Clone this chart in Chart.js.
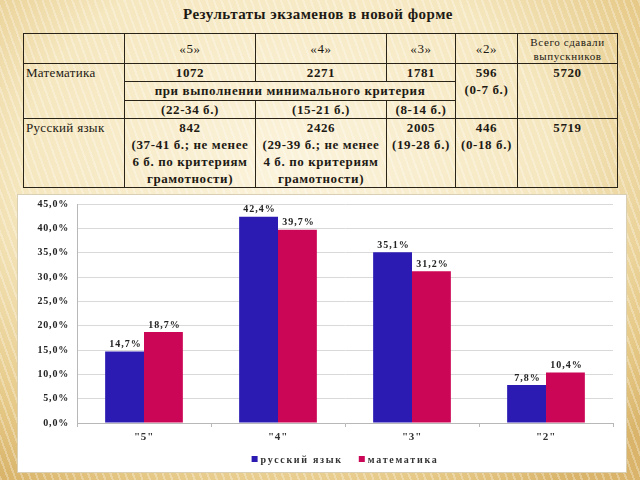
<!DOCTYPE html>
<html>
<head>
<meta charset="utf-8">
<script src="https://cdn.jsdelivr.net/npm/chart.js@4/dist/chart.umd.min.js"></script>
<style>
    html, body { margin: 0; padding: 0; }
    body {
        width: 640px; height: 480px; overflow: hidden; position: relative;
        font-family: "Liberation Serif", serif; color: #1e1a14;
        background:
            repeating-linear-gradient(70deg, rgba(255,255,255,0.28) 0 2px, rgba(255,255,255,0) 2px 7px),
            radial-gradient(ellipse 75% 80% at 45% 35%, #fbf3dc 0%, #f5e7bf 55%, #e6c987 85%, #d9b46a 100%);
    }
    #title {
        position: absolute; left: 0; top: 6px; width: 636px; text-align: center;
        font-size: 15px; font-weight: bold; letter-spacing: 0.5px;
    }
    table {
        position: absolute; left: 23px; top: 33px; width: 594px;
        border-collapse: collapse; table-layout: fixed;
        font-size: 13px; line-height: 17px;
    }
    td { border: 1px solid #2a2418; padding: 0 2px; text-align: center; vertical-align: top; font-weight: bold; letter-spacing: 0.6px; }
    tr.head td { font-weight: normal; vertical-align: middle; }
    td.lbl { text-align: left; font-weight: normal; font-size: 13px; letter-spacing: 0.3px; }
    td.small { font-size: 11px; line-height: 14px; }
    #panel {
        position: absolute; left: 18px; top: 195px; width: 608px; height: 277px;
        background: #ffffff; box-shadow: 0 0 0 1px #d8cfb4;
    }
    #panel canvas { position: absolute; left: 0; top: 0; }
</style>
</head>
<body>
<div id="title">Результаты экзаменов в новой форме</div>
<table>
    <colgroup>
        <col style="width:101px"><col style="width:131px"><col style="width:131px">
        <col style="width:69px"><col style="width:62px"><col style="width:100px">
    </colgroup>
    <tr class="head" style="height:30px">
        <td></td><td>«5»</td><td>«4»</td><td>«3»</td><td>«2»</td>
        <td class="small">Всего сдавали выпускников</td>
    </tr>
    <tr style="height:17px">
        <td class="lbl" rowspan="3">Математика</td>
        <td>1072</td><td>2271</td><td>1781</td>
        <td rowspan="3">596<br>(0-7 б.)</td>
        <td rowspan="3">5720</td>
    </tr>
    <tr style="height:19px">
        <td colspan="3">при выполнении минимального критерия</td>
    </tr>
    <tr style="height:18px">
        <td>(22-34 б.)</td><td>(15-21 б.)</td><td>(8-14 б.)</td>
    </tr>
    <tr style="height:68px">
        <td class="lbl">Русский язык</td>
        <td>842<br>(37-41 б.; не менее<br>6 б. по критериям<br>грамотности)</td>
        <td>2426<br>(29-39 б.; не менее<br>4 б. по критериям<br>грамотности)</td>
        <td>2005<br>(19-28 б.)</td>
        <td>446<br>(0-18 б.)</td>
        <td>5719</td>
    </tr>
</table>
<div id="panel"><canvas id="chart" width="608" height="277"></canvas></div>
<script>
// === Data ===
const categories = ['"5"', '"4"', '"3"', '"2"'];
const russianValues = [14.7, 42.4, 35.1, 7.8];
const mathValues = [18.7, 39.7, 31.2, 10.4];
const seriesNames = ['русский язык', 'математика'];
const seriesColors = ['#2b1bb2', '#cc0656'];

const fontFamily = '"Liberation Serif", serif';
const fmtPct = v => v.toFixed(1).replace('.', ',') + '%';

// a bit of letter spacing for the axis text, the original looks stretched
const spacing = {
    id: 'spacing',
    beforeDraw(chart) { chart.ctx.letterSpacing = '0.8px'; }
};

// value above each bar
const barLabels = {
    id: 'barLabels',
    afterDatasetsDraw(chart) {
        const ctx = chart.ctx;
        ctx.save();
        ctx.letterSpacing = '1px';
        ctx.font = 'bold 10px ' + fontFamily;
        ctx.fillStyle = '#222';
        ctx.textAlign = 'center';
        ctx.textBaseline = 'bottom';
        chart.data.datasets.forEach((ds, i) => {
            chart.getDatasetMeta(i).data.forEach((bar, j) => {
                ctx.fillText(fmtPct(ds.data[j]), bar.x + 1, bar.y - 2);
            });
        });
        ctx.restore();
    }
};

// legend at the bottom
const bottomLegend = {
    id: 'bottomLegend',
    afterDraw(chart) {
        const ctx = chart.ctx;
        const y = 264, box = 6, gap = 3, between = 16;
        ctx.save();
        ctx.letterSpacing = '1.7px';
        ctx.font = 'bold 10px ' + fontFamily;
        ctx.textBaseline = 'middle';
        const widths = seriesNames.map(n => ctx.measureText(n).width);
        const total = widths.reduce((a, w) => a + box + gap + w, 0) + between;
        let x = (chart.chartArea.left + chart.chartArea.right) / 2 - total / 2;
        seriesNames.forEach((n, i) => {
            ctx.fillStyle = seriesColors[i];
            ctx.fillRect(x, y - box / 2, box, box);
            ctx.fillStyle = '#333';
            ctx.fillText(n, x + box + gap, y + 1);
            x += box + gap + widths[i] + between;
        });
        ctx.restore();
    }
};

new Chart(document.getElementById('chart'), {
    type: 'bar',
    data: {
        labels: categories,
        datasets: [
            { label: seriesNames[0], data: russianValues, backgroundColor: seriesColors[0] },
            { label: seriesNames[1], data: mathValues, backgroundColor: seriesColors[1] }
        ]
    },
    options: {
        responsive: false,
        animation: false,
        layout: { padding: { top: 9, right: 13, bottom: 25, left: 0 } },
        datasets: { bar: { categoryPercentage: 0.58, barPercentage: 1.0 } },
        scales: {
            x: {
                grid: { offset: true, drawOnChartArea: false, drawTicks: true, tickLength: 4, color: '#b8b8b8' },
                border: { color: '#b8b8b8' },
                ticks: { color: '#333', font: { family: fontFamily, size: 11, weight: 'bold' }, padding: 4 },
                afterFit(scale) { scale.height = 24; scale.paddingLeft = 0; scale.paddingRight = 0; }
            },
            y: {
                min: 0, max: 45,
                ticks: { stepSize: 5, callback: v => fmtPct(v), color: '#222', font: { family: fontFamily, size: 10, weight: 'bold' }, padding: 8 },
                grid: { color: '#d9d9d9', drawTicks: false },
                border: { color: '#b8b8b8' },
                afterFit(scale) { scale.width = 59; scale.paddingTop = 0; scale.paddingBottom = 0; }
            }
        },
        plugins: {
            legend: { display: false },
            tooltip: { enabled: false }
        }
    },
    plugins: [spacing, barLabels, bottomLegend]
});
</script>
</body>
</html>
